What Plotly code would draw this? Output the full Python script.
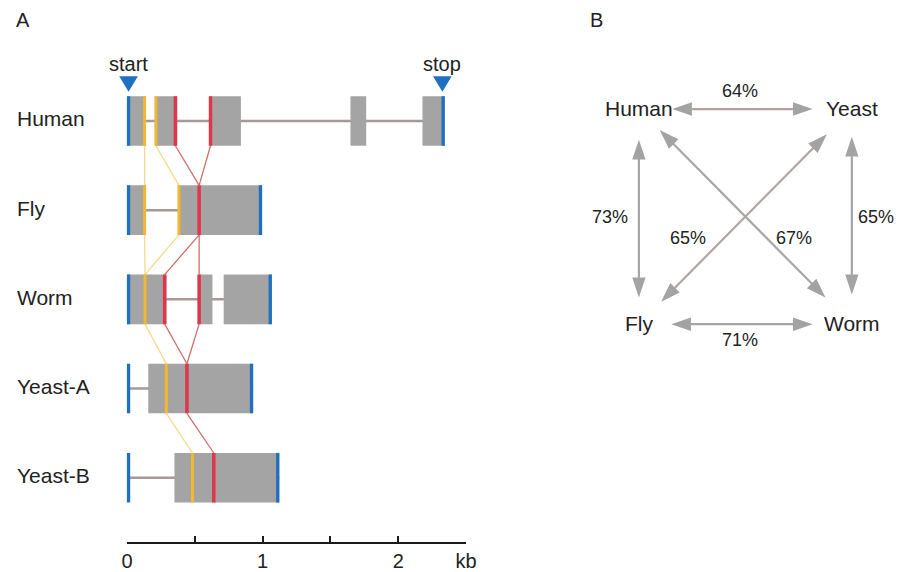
import numpy as np
import plotly.graph_objects as go

# ---------------- data ----------------
genes = ["Human", "Fly", "Worm", "Yeast-A", "Yeast-B"]
gene_start = [0.0, 0.0, 0.0, 0.0, 0.0]
gene_end = [2.343, 0.996, 1.068, 0.93, 1.123]
exon_start = [[0.0, 0.206, 0.609, 1.648, 2.179], [0.0, 0.376], [0.0, 0.528, 0.713], [0.157], [0.35]]
exon_end = [[0.14, 0.37, 0.84, 1.764, 2.343], [0.14, 0.996], [0.29, 0.63, 1.068], [0.93], [1.123]]
yellow_pos = [[0.13, 0.213], [0.13, 0.383], [0.133], [0.29], [0.483]]
red_pos = [[0.357, 0.616], [0.532], [0.278, 0.532], [0.442], [0.64]]
scale_ticks = [0, 0.5, 1, 1.5, 2, 2.5]
scale_labels = ["0", "", "1", "", "2", "kb"]

species = ["Human", "Yeast", "Fly", "Worm"]
pairs = [("Human", "Yeast"), ("Fly", "Worm"), ("Human", "Fly"),
         ("Yeast", "Worm"), ("Fly", "Yeast"), ("Human", "Worm")]
identity = [64, 71, 73, 65, 65, 67]

# ---------------- layout constants ----------------
W, H = 907, 572
FONT = "Liberation Sans, Arial, Helvetica, sans-serif"
TXT = "#222222"
GRAY = "#a3a4a3"
BLUE = "#1f70c0"
YEL = "#f4b730"
RED = "#e0354a"
INTRON = "#a89896"
CONN_RED = "#cf6e68"
CONN_YEL = "#f7d88e"

# panel A mapping (pixels)
X0PX, KBPX = 123.3, 138.2
ROW0PX, ROWPX = 122.0, 90.0
AXPX, TOPPX = 546.5, 40.0
xr = [-0.06, 2.56]
xdom = [(X0PX + KBPX * xr[0]) / W, (X0PX + KBPX * xr[1]) / W]
yr = [(AXPX - ROW0PX) / ROWPX, (TOPPX - ROW0PX) / ROWPX]
ydom = [1 - AXPX / H, 1 - TOPPX / H]
HALF = 25.0 / ROWPX
MARKOFF = 1.6 / KBPX


def row_of(px):
    return (px - ROW0PX) / ROWPX


# panel B mapping (pixels)
NODEPX = {"x0": 645.0, "x1": 862.0, "y1": 110.0, "y0": 327.0}
S = NODEPX["x1"] - NODEPX["x0"]
bx = [-0.2, 1.2]
by = [-0.2, 1.2]
x2dom = [(NODEPX["x0"] + S * bx[0]) / W, (NODEPX["x0"] + S * bx[1]) / W]
y2dom = [1 - (NODEPX["y0"] - S * by[0]) / H, 1 - (NODEPX["y0"] - S * by[1]) / H]
node_x = {"Human": 0, "Yeast": 1, "Fly": 0, "Worm": 1}
node_y = {"Human": 1, "Yeast": 1, "Fly": 0, "Worm": 0}
standoff = [(34, 40), (33, 40), (31, 27), (28, 30), (32, 36), (30, 38)]
label_pos = [(0.476, 1.084), (0.476, -0.075), (-0.138, 0.50),
             (1.112, 0.50), (0.230, 0.40), (0.730, 0.40)]
shaft_col = ["#b3a3a2", "#a6a6a6", "#a6a6a6", "#a6a6a6", "#b3a3a2", "#a6a6a6"]
HEADL, HEADW = 20.0, 6.8

fig = go.Figure()
shapes = []
annotations = []

# ---------------- panel A ----------------
for i in range(len(genes) - 1):
    for marks, col in ((yellow_pos, CONN_YEL), (red_pos, CONN_RED)):
        up, lo = marks[i], marks[i + 1]
        if len(up) == len(lo):
            links = list(zip(up, lo))
        else:
            links = [(a, b) for a in up for b in lo]
        for a, b in links:
            shapes.append(dict(type="line", xref="x", yref="y", x0=a, x1=b,
                               y0=i + HALF, y1=i + 1 - HALF,
                               line=dict(color=col, width=1.3)))

for i, g in enumerate(genes):
    shapes.append(dict(type="line", xref="x", yref="y", x0=gene_start[i], x1=gene_end[i],
                       y0=i, y1=i, line=dict(color=INTRON, width=2.5)))
    for a, b in zip(exon_start[i], exon_end[i]):
        shapes.append(dict(type="rect", xref="x", yref="y", x0=a, x1=b,
                           y0=i - HALF, y1=i + HALF, fillcolor=GRAY, line=dict(width=0)))
    for xm in yellow_pos[i]:
        shapes.append(dict(type="line", xref="x", yref="y", x0=xm, x1=xm,
                           y0=i - HALF, y1=i + HALF, line=dict(color=YEL, width=3)))
    for xm in red_pos[i]:
        shapes.append(dict(type="line", xref="x", yref="y", x0=xm, x1=xm,
                           y0=i - HALF, y1=i + HALF, line=dict(color=RED, width=3.5)))
    for xm in (gene_start[i] + MARKOFF, gene_end[i] - MARKOFF):
        shapes.append(dict(type="line", xref="x", yref="y", x0=xm, x1=xm,
                           y0=i - HALF, y1=i + HALF, line=dict(color=BLUE, width=3.3)))
    annotations.append(dict(x=9 / W, xref="paper", y=i, yref="y", text=g,
                            showarrow=False, xanchor="left", yanchor="middle", yshift=2,
                            font=dict(size=21, color=TXT, family=FONT)))

# start / stop triangles and labels
codon_x = [gene_start[0] + MARKOFF, gene_end[0] - MARKOFF * 1.5]
codon_lab = ["start", "stop"]
tx, ty = [], []
for cx in codon_x:
    tx += [cx - 9.5 / KBPX, cx + 9.5 / KBPX, cx, cx - 9.5 / KBPX, None]
    ty += [row_of(77), row_of(77), row_of(92.5), row_of(77), None]
    annotations.append(dict(x=cx, y=row_of(64.5), xref="x", yref="y",
                            text=codon_lab[codon_x.index(cx)], showarrow=False,
                            font=dict(size=20, color=TXT, family=FONT)))
fig.add_trace(go.Scatter(x=tx, y=ty, xaxis="x", yaxis="y", mode="lines", fill="toself",
                         fillcolor=BLUE, line=dict(width=0, color=BLUE),
                         hoverinfo="skip", showlegend=False))

fig.add_trace(go.Scatter(x=scale_ticks, y=[yr[0]] * len(scale_ticks), xaxis="x3", yaxis="y",
                         mode="markers", marker=dict(opacity=0), hoverinfo="skip",
                         showlegend=False))

# ---------------- panel B ----------------
hx, hy = [], []
for k, (a, b) in enumerate(pairs):
    A = np.array([node_x[a], node_y[a]], float)
    B = np.array([node_x[b], node_y[b]], float)
    u = (B - A) / np.linalg.norm(B - A)
    n = np.array([-u[1], u[0]])
    p0 = A + u * standoff[k][0] / S
    p1 = B - u * standoff[k][1] / S
    s0 = p0 + u * (HEADL - 3) / S
    s1 = p1 - u * (HEADL - 3) / S
    fig.add_trace(go.Scatter(x=[s0[0], s1[0]], y=[s0[1], s1[1]], xaxis="x2", yaxis="y2",
                             mode="lines", line=dict(color=shaft_col[k], width=2.2),
                             hoverinfo="skip", showlegend=False))
    for tip, d in ((p0, u), (p1, -u)):
        base = tip + d * HEADL / S
        c1 = base + n * HEADW / S
        c2 = base - n * HEADW / S
        hx += [tip[0], c1[0], c2[0], tip[0], None]
        hy += [tip[1], c1[1], c2[1], tip[1], None]
    annotations.append(dict(x=label_pos[k][0], y=label_pos[k][1], xref="x2", yref="y2",
                            text=f"{identity[k]}%", showarrow=False,
                            font=dict(size=18, color=TXT, family=FONT)))

fig.add_trace(go.Scatter(x=hx, y=hy, xaxis="x2", yaxis="y2", mode="lines", fill="toself",
                         fillcolor="#a3a3a3", line=dict(width=0, color="#a3a3a3"),
                         hoverinfo="skip", showlegend=False))

for sp in species:
    annotations.append(dict(x=node_x[sp], y=node_y[sp], xref="x2", yref="y2", text=sp,
                            showarrow=False, yshift=1,
                            font=dict(size=21, color=TXT, family=FONT)))

annotations.append(dict(x=8 / W, y=1 - 20.5 / H, xref="paper", yref="paper", text="A",
                        showarrow=False, xanchor="left", yanchor="middle",
                        font=dict(size=20, color=TXT, family=FONT)))
annotations.append(dict(x=593 / W, y=1 - 20.5 / H, xref="paper", yref="paper", text="B",
                        showarrow=False, xanchor="left", yanchor="middle",
                        font=dict(size=20, color=TXT, family=FONT)))

hidden = dict(visible=False, showgrid=False, zeroline=False, fixedrange=True)
fig.update_layout(
    width=W, height=H, margin=dict(l=0, r=0, t=0, b=0),
    paper_bgcolor="white", plot_bgcolor="rgba(0,0,0,0)",
    font=dict(family=FONT, color=TXT),
    showlegend=False,
    xaxis=dict(hidden, domain=xdom, range=xr, anchor="y"),
    yaxis=dict(hidden, domain=ydom, range=yr, anchor="x"),
    xaxis3=dict(domain=[X0PX / W, (X0PX + 2.5 * KBPX) / W], range=[0, 2.5], anchor="y",
                showline=True, linecolor="#1a1a1a", linewidth=2.2, ticks="inside",
                ticklen=6, tickwidth=2, tickcolor="#1a1a1a", tickvals=scale_ticks,
                ticktext=scale_labels, tickfont=dict(size=20, color=TXT, family=FONT),
                showgrid=False, zeroline=False, fixedrange=True),
    xaxis2=dict(hidden, domain=x2dom, range=bx, anchor="y2"),
    yaxis2=dict(hidden, domain=y2dom, range=by, anchor="x2"),
    shapes=shapes, annotations=annotations,
)

fig.write_html("out.html", config={"displayModeBar": False},
               post_script="document.body.style.margin='0';document.body.style.overflow='hidden';")
